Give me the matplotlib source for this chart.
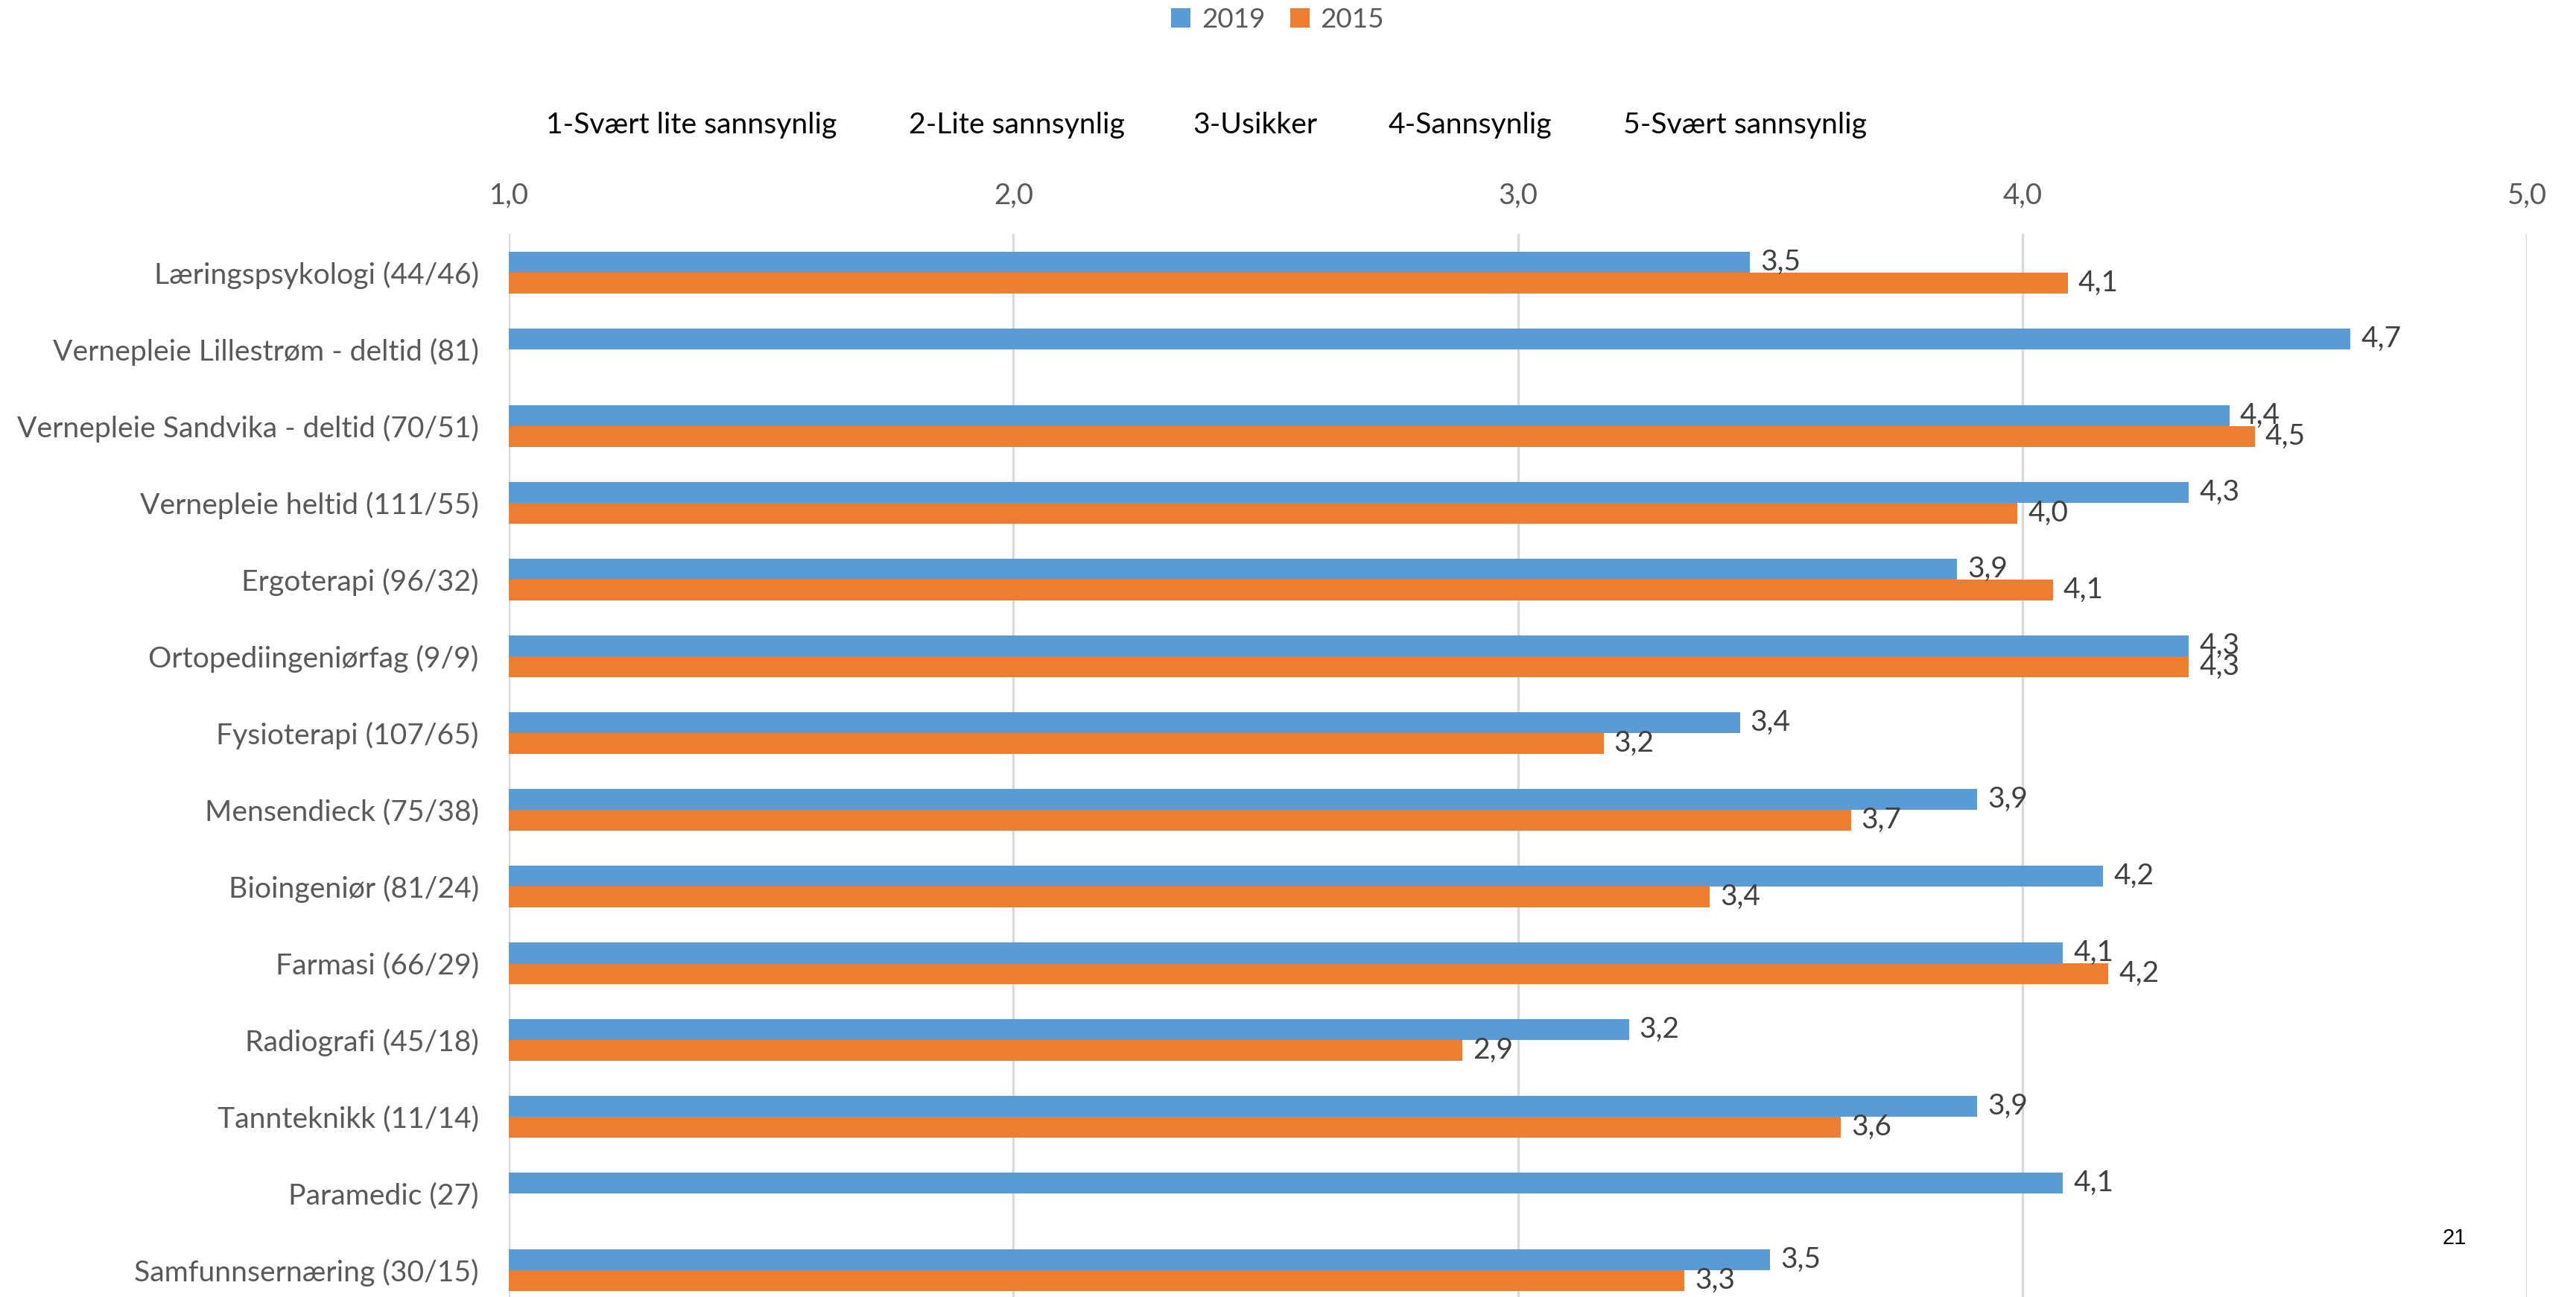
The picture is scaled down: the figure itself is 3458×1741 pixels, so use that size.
import numpy as np
import matplotlib.pyplot as plt

categories = [
    "Læringspsykologi (44/46)",
    "Vernepleie Lillestrøm - deltid (81)",
    "Vernepleie Sandvika - deltid (70/51)",
    "Vernepleie heltid (111/55)",
    "Ergoterapi (96/32)",
    "Ortopediingeniørfag (9/9)",
    "Fysioterapi (107/65)",
    "Mensendieck (75/38)",
    "Bioingeniør (81/24)",
    "Farmasi (66/29)",
    "Radiografi (45/18)",
    "Tannteknikk (11/14)",
    "Paramedic (27)",
    "Samfunnsernæring (30/15)",
]
v2019 = [3.46, 4.65, 4.41, 4.33, 3.87, 4.33, 3.44, 3.91, 4.16, 4.08, 3.22, 3.91, 4.08, 3.50]
v2015 = [4.09, np.nan, 4.46, 3.99, 4.06, 4.33, 3.17, 3.66, 3.38, 4.17, 2.89, 3.64, np.nan, 3.33]
xticks = [1, 2, 3, 4, 5]
scale_labels = ["1-Svært lite sannsynlig", "2-Lite sannsynlig", "3-Usikker",
                "4-Sannsynlig", "5-Svært sannsynlig"]

blue = "#5B9BD5"
orange = "#ED7D31"
gray = "#595959"
font = ["Lato", "DejaVu Sans"]
plt.rcParams['font.family'] = font

fig = plt.figure(figsize=(17.29, 8.705), dpi=200)
ax = fig.add_axes([0.1975, -0.0089, 0.7835, 0.8283])

y = np.arange(len(categories))
h = 0.27
ax.barh(y - h / 2, np.array(v2019) - 1, h, left=1, color=blue, label="2019", zorder=3)
ax.barh(y + h / 2, np.array(v2015) - 1, h, left=1, color=orange, label="2015", zorder=3)

# data labels
for i in range(len(categories)):
    for val, off in ((v2019[i], -h / 2), (v2015[i], h / 2)):
        if np.isnan(val):
            continue
        ax.annotate(f"{val:.1f}".replace(".", ","), (val, y[i] + off),
                    xytext=(5, 0), textcoords="offset points",
                    va="center", ha="left", fontsize=14, color="#404040")

ax.set_xlim(1, 5)
ax.set_ylim(len(categories) - 0.5, -0.5)
ax.set_yticks(y)
ax.set_yticklabels(categories, fontsize=14.1, color=gray)
ax.set_xticks(xticks)
ax.set_xticklabels([f"{t:.1f}".replace(".", ",") for t in xticks], fontsize=13.8, color=gray)
ax.xaxis.tick_top()
ax.tick_params(axis="x", length=0, pad=12)
ax.tick_params(axis="y", length=0, pad=14.5)
ax.grid(axis="x", color="#D9D9D9", linewidth=1.2, zorder=0)
for s in ax.spines.values():
    s.set_visible(False)

# scale description row
xs = [421, 619, 764, 895, 1062]
for x, t in zip(xs, scale_labels):
    fig.text(x / 1568, 1 - 76 / 789, t, ha="center", va="center", fontsize=14.1, color="black")

fig.legend(loc="center", bbox_to_anchor=(0.496, 1 - 12 / 789), ncol=2, frameon=False,
           fontsize=13.3, handlelength=0.7, handleheight=0.7, columnspacing=0.9,
           handletextpad=0.4, labelcolor=gray)

fig.text(1494 / 1568, 1 - 753 / 789, "21", ha="center", va="center", fontsize=10.5,
         family=["Liberation Sans", "DejaVu Sans"], color="black")

fig.savefig("out.png", dpi=200)
